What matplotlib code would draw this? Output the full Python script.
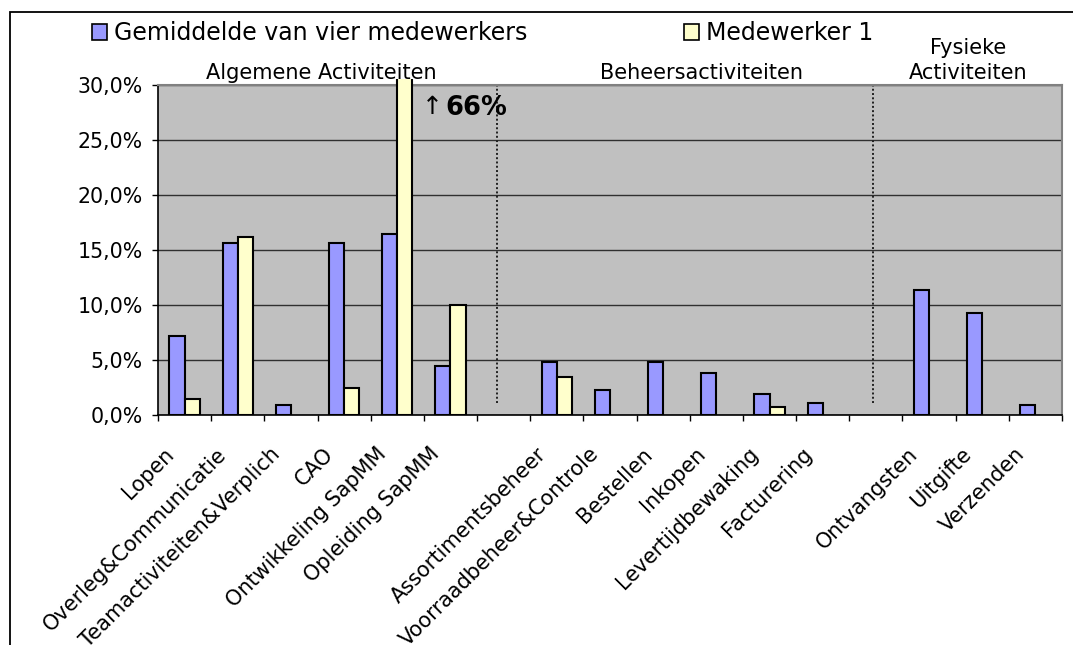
import matplotlib
matplotlib.use("Agg")
import matplotlib.pyplot as plt
import matplotlib.transforms as mtrans
import numpy as np
from matplotlib.patches import Patch, Rectangle
from matplotlib.ticker import FuncFormatter, FixedLocator

categories = ["Lopen", "Overleg&Communicatie", "Teamactiviteiten&Verplich", "CAO",
              "Ontwikkeling SapMM", "Opleiding SapMM", "",
              "Assortimentsbeheer", "Voorraadbeheer&Controle", "Bestellen", "Inkopen",
              "Levertijdbewaking", "Facturering", "",
              "Ontvangsten", "Uitgifte", "Verzenden"]
gemiddelde = [7.2, 15.6, 0.9, 15.6, 16.45, 4.5, 0,
              4.8, 2.3, 4.8, 3.8, 1.9, 1.1, 0,
              11.35, 9.3, 0.9]
medewerker1 = [1.5, 16.2, 0, 2.45, 66.0, 10.0, 0,
               3.5, 0, 0, 0, 0.7, 0, 0,
               0, 0, 0]
series_names = ["Gemiddelde van vier medewerkers", "Medewerker 1"]
group_labels = ["Algemene Activiteiten", "Beheersactiviteiten", "Fysieke\nActiviteiten"]
yticks = [0, 5, 10, 15, 20, 25, 30]

W, H = 1073, 645
fig = plt.figure(figsize=(W/100, H/100), dpi=100)
ax = fig.add_axes([158/W, 1-415/H, (1062-158)/W, (415-85)/H])
ax.set_facecolor("#C0C0C0")

x = np.arange(len(categories))
bw = 0.285
blue = "#9999FF"
yellow = "#FFFFCC"
g = np.array(gemiddelde, dtype=float)
m = np.array(medewerker1, dtype=float)
g = np.where(g > 0, g, np.nan)
m = np.where(m > 0, m, np.nan)
ax.bar(x - bw/2, g, bw, color=blue, edgecolor="black", linewidth=1.5, zorder=3)
ybars = ax.bar(x + bw/2, m, bw, color=yellow, edgecolor="black", linewidth=1.5, zorder=3)
clip = Rectangle((0, 0), 1, 1.018, transform=ax.transAxes, facecolor="none", edgecolor="none")
for b in ybars:
    b.set_clip_path(clip)

ax.set_xlim(-0.5, len(categories) - 0.5)
ax.set_ylim(0, 30)
ax.set_yticks(yticks)
ax.yaxis.set_major_formatter(FuncFormatter(lambda v, p: f"{v:.1f}%".replace(".", ",")))
ax.grid(axis="y", color="#303030", linewidth=1, zorder=1)
ax.set_axisbelow(True)

ax.set_xticks(x)
ax.set_xticklabels(categories, rotation=45, ha="right", va="center",
                   rotation_mode="anchor", fontsize=15)
ax.tick_params(axis="x", which="major", length=0, pad=0)
off = mtrans.ScaledTranslation(-14/100, -36/100, fig.dpi_scale_trans)
for lab in ax.get_xticklabels():
    lab.set_transform(lab.get_transform() + off)
ax.xaxis.set_minor_locator(FixedLocator(np.arange(-0.5, len(categories), 1.0)))
ax.tick_params(axis="x", which="minor", length=4, width=1, color="black")
ax.tick_params(axis="y", length=4, width=1, labelsize=14.8, pad=7)

for s in ["top", "right"]:
    ax.spines[s].set_color("#808080")
    ax.spines[s].set_linewidth(1.5)
for s in ["left", "bottom"]:
    ax.spines[s].set_color("black")
    ax.spines[s].set_linewidth(1.2)

# dotted separators
for xs in [5.875, 12.94]:
    ax.plot([xs, xs], [1.1, 30], linestyle=(0, (1, 1.2)), color="#202020", linewidth=1.4, zorder=2)

# group labels
ax.text(2.565, 30.59, group_labels[0], ha="center", va="baseline", fontsize=15)
ax.text(9.73, 30.59, group_labels[1], ha="center", va="baseline", fontsize=15)
ax.text(14.74, 30.59, group_labels[2], ha="center", va="baseline", fontsize=15, linespacing=1.3)

# annotation
ax.text(4.46, 27.35, "↑", ha="left", va="baseline", fontsize=18)
ax.text(4.90, 27.27, "66%", ha="left", va="baseline", fontsize=18.5, fontweight="bold")

# legend
handles = [Patch(facecolor=blue, edgecolor="black", linewidth=1.2),
           Patch(facecolor=yellow, edgecolor="black", linewidth=1.2)]
fig.legend(handles, series_names, loc="center left", bbox_to_anchor=(92/W, 1-33/H),
           ncol=2, frameon=False, fontsize=17, handlelength=0.65, handleheight=0.65,
           handletextpad=0.3, columnspacing=6.6, borderpad=0, borderaxespad=0)

# outer frame
fig.patches.append(Rectangle((10/W, -0.1), 1.2, 1.1 - 12/H, transform=fig.transFigure,
                             fill=False, edgecolor="black", linewidth=1.3))

fig.savefig("out.png", dpi=100)
